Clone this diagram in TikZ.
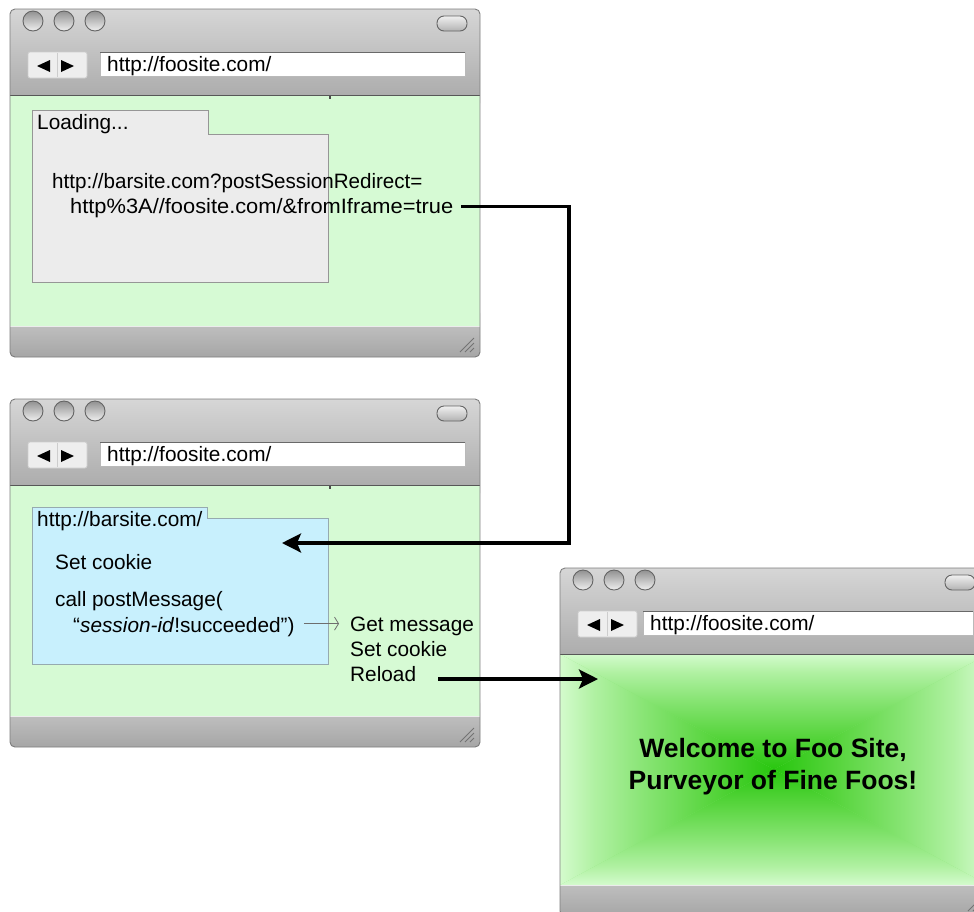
\documentclass[tikz,border=0pt]{standalone}
\usepackage{fontspec}
\setmainfont{Liberation Sans}
\usetikzlibrary{arrows.meta}

% palette
\definecolor{pagegreen}{RGB}{214,250,212}
\definecolor{framegray}{RGB}{125,125,125}
\definecolor{chrometop}{RGB}{214,214,214}
\definecolor{chromebot}{RGB}{166,166,166}
\definecolor{bartop}{RGB}{203,203,203}
\definecolor{barbot}{RGB}{166,166,166}
\definecolor{loadgray}{RGB}{236,236,236}
\definecolor{boxline}{RGB}{150,150,150}
\definecolor{framecyan}{RGB}{200,240,253}
\definecolor{cyanline}{RGB}{150,170,175}
\definecolor{btntop}{RGB}{145,145,145}
\definecolor{btnbot}{RGB}{240,240,240}
\definecolor{btnline}{RGB}{100,100,100}
\definecolor{navfill}{RGB}{238,238,238}
\definecolor{navline}{RGB}{205,205,205}
\definecolor{addrtop}{RGB}{105,105,105}
\definecolor{addrside}{RGB}{185,185,185}
\definecolor{gripcol}{RGB}{115,115,115}
\definecolor{thingray}{RGB}{110,110,110}
\definecolor{gcore}{RGB}{40,198,15}
\definecolor{gtwo}{RGB}{88,213,62}
\definecolor{gthree}{RGB}{135,228,115}
\definecolor{gfour}{RGB}{176,241,162}
\definecolor{gedge}{RGB}{212,251,205}

% rectangular glow for the welcome page: core at the bottom, rim at the top
\pgfdeclareverticalshading{glowv}{100bp}{color(0bp)=(gcore); color(25bp)=(gcore);
  color(40bp)=(gtwo); color(55bp)=(gthree); color(67bp)=(gfour);
  color(75bp)=(gedge); color(100bp)=(gedge)}

\tikzset{
  txt/.style={inner sep=0pt, font=\fontsize{20.8}{25}\selectfont, text=black},
  welcometxt/.style={inner sep=0pt, font=\fontsize{26.5}{31.5}\selectfont\bfseries, text=black},
  conn/.style={line width=3.2pt, -{Stealth[length=19pt,width=19pt,inset=4pt]}},
  thinconn/.style={draw=thingray, line width=0.8pt, -{Straight Barb[length=4pt,width=13pt]}},
  winbtn/.style={top color=btntop, bottom color=btnbot, draw=btnline, line width=0.9pt},
  winpill/.style={top color=btnbot, bottom color=btntop!70!white, draw=btnline, line width=0.9pt},
  navbox/.style={fill=navfill, draw=navline, line width=0.8pt},
  gripline/.style={draw=gripcol, line width=1pt},
}

% left edge of the address field, inside a window
\newcommand\addrx{90}

% browser window: x, y, width, name, url, page content
\newcommand\browserwin[6]{%
\begin{scope}[shift={(#1,#2)}]
  % title bar and status bar
  \path[top color=chrometop, bottom color=chromebot, rounded corners=6pt] (0,0) rectangle (#3,100);
  \path[top color=bartop, bottom color=barbot, rounded corners=4pt] (0,300) rectangle (#3,348);
  % page area
  #6
  \draw[framegray!70!black, line width=0.9pt] (0,86) -- (#3,86);
  \draw[white!85!gray, line width=0.8pt] (0,317.5) -- (#3,317.5);
  % outline
  \draw[framegray, line width=0.9pt, rounded corners=5pt] (0,0) rectangle (#3,348);
  % window buttons
  \foreach \cx in {23,54,85} \draw[winbtn] (\cx,12) circle[radius=10pt];
  \draw[winpill, rounded corners=7pt] ({#3-43},7) rectangle ({#3-13},22);
  % back / forward
  \draw[navbox, rounded corners=2pt] (18,43) rectangle (77,69);
  \draw[navline, line width=0.8pt] (47.5,44) -- (47.5,68);
  \fill[black] (27,57) -- (40,51) -- (40,63) -- cycle;
  \fill[black] (64,57) -- (51,51) -- (51,63) -- cycle;
  % address field
  \fill[white] (\addrx,43) rectangle ({#3-15},67);
  \draw[addrside, line width=0.6pt] (\addrx,43) rectangle ({#3-15},67);
  \draw[addrtop, line width=1pt] (\addrx,43) -- ({#3-15},43);
  \node[txt, anchor=base west] (#4url) at ({\addrx+7},62) {#5};
  % resize grip
  \draw[gripline] ({#3-20},343) -- ({#3-6},329);
  \draw[gripline] ({#3-15},343) -- ({#3-6},334);
  \draw[gripline] ({#3-10},343) -- ({#3-6},339);
\end{scope}}

\begin{document}
\begin{tikzpicture}[x=1pt, y=-1pt]
\useasboundingbox (0,0) rectangle (974,911);
\clip (0,0) rectangle (974,911);
\fill[white] (0,0) rectangle (974,911);

% ---- window 1: loading the frame
\browserwin{10}{9}{470}{winA}{http://foosite.com/}{%
  \fill[pagegreen] (0,86) rectangle (470,317);
  \draw[black!70, line width=1.5pt] (320,87) -- (320,90);}
\draw[fill=loadgray, draw=boxline, line width=0.8pt]
  (32,110) -- (208,110) -- (208,134) -- (328,134) -- (328,282) -- (32,282) -- cycle;
\node[txt, anchor=base west] (loading) at (37,129) {Loading...};
\node[txt, anchor=base west, xscale=0.99] (redirA) at (52,188) {http://barsite.com?postSessionRedirect=};
\node[txt, anchor=base west, xscale=1.05] (redirB) at (70,213) {http\%3A//foosite.com/\&fromIframe=true};

% ---- window 2: frame sets the cookie
\browserwin{10}{399}{470}{winB}{http://foosite.com/}{%
  \fill[pagegreen] (0,86) rectangle (470,317);
  \draw[black!70, line width=1.5pt] (320,87) -- (320,90);}
\draw[fill=framecyan, draw=cyanline, line width=0.8pt]
  (32,507) -- (207,507) -- (207,518) -- (328,518) -- (328,664) -- (32,664) -- cycle;
\node[txt, anchor=base west] (barurl) at (37,526) {http://barsite.com/};
\node[txt, anchor=base west] (setcookieA) at (55,569) {Set cookie};
\node[txt, anchor=base west] (callpm) at (55,606) {call postMessage(};
\node[txt, anchor=base west] (sessid) at (73,632) {“\textit{session-id}!succeeded”)};
\node[txt, anchor=base west] (getmsg) at (350,631) {Get message};
\node[txt, anchor=base west] (setcookieB) at (350,656) {Set cookie};
\node[txt, anchor=base west] (reload) at (350,681) {Reload};

% ---- window 3: reloaded site
\renewcommand\addrx{83}
\browserwin{560}{568}{428}{winC}{http://foosite.com/}{%
  \fill[gthree] (0,86) rectangle (428,317);
  \shade[shading=glowv] (0,86) -- (428,86) -- (214,201.5) -- cycle;
  \shade[shading=glowv, shading angle=180] (0,317) -- (428,317) -- (214,201.5) -- cycle;
  \shade[shading=glowv, shading angle=90] (0,86) -- (0,317) -- (214,201.5) -- cycle;
  \shade[shading=glowv, shading angle=-90] (428,86) -- (428,317) -- (214,201.5) -- cycle;}
\node[welcometxt, anchor=base] (welcomeA) at (773,757) {Welcome to Foo Site,};
\node[welcometxt, anchor=base] (welcomeB) at (773,789) {Purveyor of Fine Foos!};

% ---- connectors
\coordinate (bend1) at (569,543);
\coordinate (land1) at (282,543);
\coordinate (land2) at (598,679);
\draw[conn] ([xshift=8pt,yshift=1.5pt]redirB.east) -| (bend1) -- (land1);
\draw[thinconn] ([xshift=9pt,yshift=3pt]sessid.east) -- ([xshift=-11pt,yshift=3pt]sessid.east -| getmsg.west);
\draw[conn] ([xshift=22pt,yshift=2pt]reload.base east) -- (land2);
\end{tikzpicture}
\end{document}
